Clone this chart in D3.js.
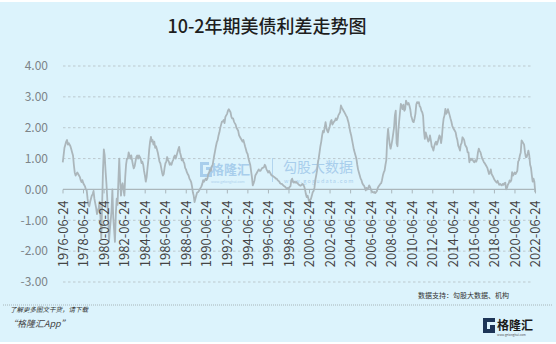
<!DOCTYPE html>
<html>
<head>
<meta charset="utf-8">
<script src="https://cdn.jsdelivr.net/npm/d3@7"></script>
<style>
html, body { margin: 0; padding: 0; background: #fff; }
svg { display: block; }
text { font-family: "Noto Sans CJK SC", "Noto Sans", sans-serif; }
</style>
</head>
<body>
<div id="chart"></div>
<script>
const title = '10-2年期美债利差走势图';
const source = '数据支持：勾股大数据、机构';

// monthly spread (10Y - 2Y, %), first value is June 1976
const seriesStart = '1976-06-15';
const spread = [
    0.88, 1.1, 1.35, 1.45, 1.55, 1.6, 1.45,
    1.5, 1.45, 1.4, 1.3, 1.2, 1.1, 0.8, 0.55, 0.45, 0.5, 0.55, 0.5,
    0.45, 0.4, 0.3, 0.24, 0.3, 0.2, 0.15, 0.1, 0.0, -0.03, -0.3, -0.5,
    -0.55, -0.4, -0.3, -0.2, -0.15, -0.05, -0.3, -0.45, -0.6, -0.8, -0.7, -0.6,
    -0.4, -0.9, -1.6, -0.5, 0.6, 1.3, 1.1, 0.6, 0.2, -0.3, -0.9, -1.7,
    -1.3, -1.0, -0.7, 0.0, -0.9, -1.3, -1.7, -0.8, -0.3, -0.5, 0.3, 1.0,
    0.3, -0.2, 0.1, 0.2, 0.0, -0.2, 0.4, 0.8, 1.0, 1.0, 1.2, 1.1,
    1.0, 1.1, 0.95, 0.8, 0.68, 0.75, 0.9, 1.05, 1.1, 1.0, 1.1, 1.05,
    1.0, 0.85, 0.9, 0.8, 0.6, 0.45, 0.25, 0.4, 0.7, 0.95, 1.3, 1.55,
    1.7, 1.55, 1.6, 1.45, 1.55, 1.35, 1.4, 1.3, 1.2, 1.05, 0.9, 0.85,
    0.7, 0.55, 0.45, 0.5, 0.7, 0.85, 0.9, 1.05, 0.95, 0.9, 0.8, 0.85,
    0.8, 0.9, 0.95, 1.05, 1.1, 1.0, 1.1, 1.2, 1.3, 1.38, 1.2, 1.1,
    0.94, 1.0, 0.9, 0.85, 0.7, 0.65, 0.56, 0.5, 0.45, 0.35, 0.3, 0.24,
    0.1, -0.1, -0.2, -0.41, -0.3, -0.2, -0.1, -0.09, -0.05, 0.0, 0.05, 0.1,
    0.18, 0.3, 0.25, 0.3, 0.35, 0.3, 0.35, 0.5, 0.55, 0.65, 0.6, 0.75,
    0.78, 0.95, 1.1, 1.25, 1.4, 1.53, 1.6, 1.75, 1.85, 2.0, 2.1, 2.2,
    2.2, 2.25, 2.15, 2.35, 2.4, 2.45, 2.55, 2.6, 2.55, 2.5, 2.35, 2.3,
    2.3, 2.2, 2.15, 2.1, 2.0, 1.95, 1.9, 1.75, 1.7, 1.65, 1.6, 1.55,
    1.6, 1.5, 1.4, 1.3, 1.2, 1.15, 1.0, 0.9, 0.8, 0.6, 0.4, 0.13,
    0.2, 0.3, 0.45, 0.5, 0.55, 0.6, 0.65, 0.6, 0.6, 0.65, 0.7, 0.7,
    0.72, 0.8, 0.75, 0.65, 0.6, 0.55, 0.6, 0.55, 0.5, 0.45, 0.45, 0.42,
    0.4, 0.38, 0.35, 0.35, 0.3, 0.28, 0.25, 0.2, 0.18, 0.18, 0.15, 0.12,
    0.1, 0.08, 0.05, 0.02, 0.05, 0.03, 0.08, 0.1, 0.3, 0.35, 0.25, 0.22,
    0.25, 0.22, 0.24, 0.2, 0.18, 0.15, 0.13, 0.12, 0.15, 0.18, 0.15, 0.1,
    0.0, -0.15, -0.25, -0.2, -0.3, -0.4, -0.35, -0.3, -0.2, -0.09, -0.05, 0.05,
    0.3, 0.45, 0.6, 0.85, 1.0, 1.2, 1.4, 1.55, 1.75, 1.9, 1.85, 2.0,
    2.18, 2.0, 1.9, 1.85, 1.95, 2.05, 2.2, 2.25, 2.1, 2.15, 2.2, 2.23,
    2.3, 2.25, 2.3, 2.4, 2.45, 2.5, 2.72, 2.65, 2.6, 2.55, 2.5, 2.45,
    2.39, 2.35, 2.25, 2.15, 2.0, 1.85, 1.75, 1.6, 1.45, 1.3, 1.2, 1.1,
    1.0, 0.8, 0.65, 0.55, 0.45, 0.35, 0.3, 0.2, 0.15, 0.12, 0.05, -0.03,
    0.05, 0.0, 0.05, 0.13, 0.08, 0.0, -0.05, -0.09, -0.1, -0.08, -0.12, -0.09,
    -0.05, 0.05, 0.1, 0.13, 0.18, 0.2, 0.3, 0.45, 0.55, 0.61, 0.8, 0.95,
    1.6, 1.96, 1.7, 1.45, 1.32, 1.45, 1.6, 1.8, 2.0, 2.4, 2.55, 1.5,
    1.4, 1.9, 2.2, 2.5, 2.77, 2.7, 2.6, 2.75, 2.55, 2.6, 2.88, 2.8,
    2.75, 2.8, 2.72, 2.6, 2.39, 2.3, 2.2, 2.18, 2.3, 2.45, 2.75, 2.83,
    2.8, 2.83, 2.7, 2.66, 2.55, 2.5, 2.39, 1.9, 1.64, 1.85, 1.75, 1.65,
    1.55, 1.6, 1.75, 1.6, 1.4, 1.35, 1.26, 1.4, 1.5, 1.55, 1.45, 1.53,
    1.64, 1.75, 1.7, 1.5, 1.7, 2.07, 2.3, 2.4, 2.61, 2.45, 2.5, 2.6,
    2.5, 2.4, 2.3, 2.2, 2.07, 2.0, 1.95, 1.9, 1.85, 1.7, 1.6, 1.42,
    1.35, 1.26, 1.45, 1.5, 1.69, 1.65, 1.6, 1.45, 1.4, 1.35, 1.2, 1.2,
    0.88, 1.0, 0.95, 1.0, 0.95, 0.9, 0.88, 0.95, 0.9, 0.98, 1.2, 1.32,
    1.25, 1.2, 1.1, 1.0, 0.95, 0.88, 0.85, 0.8, 0.75, 0.7, 0.6, 0.5,
    0.55, 0.65, 0.5, 0.45, 0.4, 0.33, 0.29, 0.25, 0.22, 0.28, 0.2, 0.15,
    0.18, 0.15, 0.13, 0.18, 0.15, 0.2, 0.22, 0.0, 0.05, 0.15, 0.2, 0.29,
    0.25, 0.3, 0.56, 0.45, 0.5, 0.55, 0.5, 0.55, 0.6, 0.9, 0.95, 1.1,
    1.2, 1.59, 1.55, 1.5, 1.45, 1.2, 1.05, 1.05, 1.15, 1.26, 1.1, 0.8,
    0.7, 0.45, 0.25, 0.35, 0.25, -0.09
];

const xTickLabels = [
    '1976-06-24', '1978-06-24', '1980-06-24', '1982-06-24', '1984-06-24', '1986-06-24',
    '1988-06-24', '1990-06-24', '1992-06-24', '1994-06-24', '1996-06-24', '1998-06-24',
    '2000-06-24', '2002-06-24', '2004-06-24', '2006-06-24', '2008-06-24', '2010-06-24',
    '2012-06-24', '2014-06-24', '2016-06-24', '2018-06-24', '2020-06-24', '2022-06-24'
];
const yTicks = [4, 3, 2, 1, 0, -1, -2, -3];

const width = 556;
const height = 344;
const parse = d3.timeParse('%Y-%m-%d');

const data = spread.map((value, i) => ({
    date: d3.timeMonth.offset(parse(seriesStart), i),
    value
}));

const svg = d3.select('#chart')
    .append('svg')
    .attr('width', width)
    .attr('height', height);

svg.append('rect')
    .attr('x', 0)
    .attr('y', 2)
    .attr('width', width)
    .attr('height', height - 4)
    .attr('fill', '#dcf3fc');

svg.append('text')
    .attr('x', 267)
    .attr('y', 33)
    .attr('text-anchor', 'middle')
    .attr('font-size', 18)
    .attr('font-weight', 500)
    .attr('fill', '#1e1e1e')
    .text(title);

const x = d3.scaleTime()
    .domain([parse(xTickLabels[0]), parse(xTickLabels[xTickLabels.length - 1])])
    .range([63, 535.5]);

const y = d3.scaleLinear()
    .domain([-3, 4])
    .range([282, 66]);

// grid
svg.append('g')
    .selectAll('line')
    .data(yTicks.filter(v => v !== 0))
    .join('line')
    .attr('x1', 63)
    .attr('x2', 533)
    .attr('y1', v => y(v))
    .attr('y2', v => y(v))
    .attr('stroke', '#b4bec3')
    .attr('stroke-width', 0.8)
    .attr('stroke-dasharray', '2.5,2.5');

svg.append('g')
    .selectAll('text')
    .data(yTicks)
    .join('text')
    .attr('x', 48)
    .attr('y', v => y(v))
    .attr('dy', '0.36em')
    .attr('text-anchor', 'end')
    .attr('font-family', '"Open Sans", sans-serif')
    .attr('font-size', 12)
    .attr('fill', '#7d8488')
    .text(v => v.toFixed(2));

// watermark
const mark = svg.append('g').attr('opacity', 0.55).attr('fill', '#7fb0e0');
mark.append('path')
    .attr('d', 'M200,162 h9 v3 h-6 v9 h6 v-4 h-3 v-3 h6 v10 h-12 z');
mark.append('text')
    .attr('x', 211).attr('y', 174)
    .attr('font-size', 13).attr('font-weight', 700)
    .text('格隆汇');
mark.append('text')
    .attr('x', 211).attr('y', 183)
    .attr('font-size', 3.5)
    .text('www.gelonghui.com');
mark.append('rect')
    .attr('x', 272).attr('y', 158).attr('width', 0.8).attr('height', 24);
mark.append('text')
    .attr('x', 283).attr('y', 172)
    .attr('font-size', 14)
    .text('勾股大数据');
mark.append('text')
    .attr('x', 284).attr('y', 183)
    .attr('font-size', 5.5)
    .attr('letter-spacing', 1.2)
    .text('www.gogudata.com');

const line = d3.line()
    .x(d => x(d.date))
    .y(d => y(d.value));

svg.append('path')
    .datum(data)
    .attr('fill', 'none')
    .attr('stroke', '#abb6bb')
    .attr('stroke-width', 1.8)
    .attr('stroke-linejoin', 'round')
    .attr('d', line);

// zero axis with ticks
svg.append('line')
    .attr('x1', 63)
    .attr('x2', 536)
    .attr('y1', y(0))
    .attr('y2', y(0))
    .attr('stroke', '#aab6bb')
    .attr('stroke-width', 1.3);

const ticks = svg.append('g')
    .selectAll('g')
    .data(xTickLabels)
    .join('g')
    .attr('transform', d => `translate(${x(parse(d))},${y(0)})`);

ticks.append('line')
    .attr('y1', 0)
    .attr('y2', 4)
    .attr('stroke', '#aab6bb');

ticks.append('text')
    .attr('transform', 'translate(0,11) rotate(-90)')
    .attr('dy', '0.36em')
    .attr('text-anchor', 'end')
    .attr('font-family', '"Liberation Serif", serif')
    .attr('font-size', 13)
    .attr('fill', '#444')
    .text(d => d);

// footer
svg.append('text')
    .attr('x', 509)
    .attr('y', 298)
    .attr('text-anchor', 'end')
    .attr('font-size', 7)
    .attr('fill', '#333')
    .text(source);

svg.append('line')
    .attr('x1', 3)
    .attr('x2', 553)
    .attr('y1', 305)
    .attr('y2', 305)
    .attr('stroke', '#9aa4a8')
    .attr('stroke-width', 0.8)
    .attr('stroke-dasharray', '1,1');

svg.append('text')
    .attr('x', 10)
    .attr('y', 312)
    .attr('font-size', 6.5)
    .attr('font-style', 'italic')
    .attr('fill', '#333')
    .text('了解更多图文干货，请下载');

svg.append('text')
    .attr('x', 8)
    .attr('y', 327)
    .attr('font-size', 9)
    .attr('font-style', 'italic')
    .attr('fill', '#444')
    .text('“格隆汇App”');

const logo = svg.append('g');
logo.append('path')
    .attr('d', 'M483,318 h12 v4 h-8 v7 h8 v4 h-12 z M490,325 h5 v4 h-5 z')
    .attr('fill', '#1d3557');
logo.append('text')
    .attr('x', 497)
    .attr('y', 330)
    .attr('font-size', 12)
    .attr('font-weight', 700)
    .attr('fill', '#1a1a1a')
    .text('格隆汇');
logo.append('text')
    .attr('x', 497)
    .attr('y', 336)
    .attr('font-size', 3)
    .attr('fill', '#555')
    .text('www.gelonghui.com');
</script>
</body>
</html>
